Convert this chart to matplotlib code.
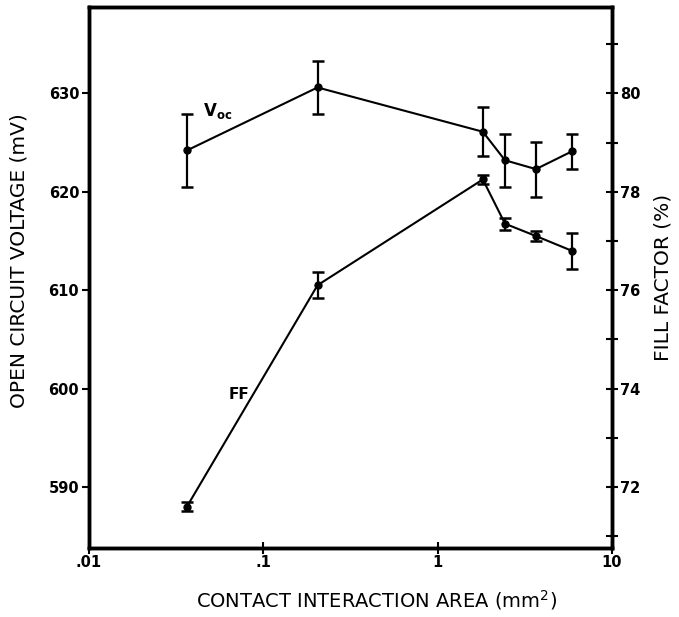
import matplotlib.pyplot as plt
from matplotlib.ticker import FixedLocator, NullLocator

# data
area = [0.0365, 0.205, 1.82, 2.44, 3.67, 5.9]          # mm^2
voc = [624.2, 630.6, 626.1, 623.2, 622.3, 624.1]        # mV
voc_err = [3.7, 2.7, 2.5, 2.7, 2.8, 1.8]
ff = [71.6, 76.1, 78.25, 77.35, 77.1, 76.8]             # %
ff_err = [0.1, 0.27, 0.1, 0.12, 0.1, 0.37]

xticks = [0.01, 0.1, 1, 10]
xtick_labels = ['.01', '.1', '1', '10']
vticks = [590, 600, 610, 620, 630]
fticks = [72, 74, 76, 78, 80]

plt.rcParams['font.family'] = ['DejaVu Sans']

fig = plt.figure(figsize=(6.79, 6.17), dpi=100)
ax = fig.add_axes([0.131, 0.112, 0.770, 0.877])
ax2 = ax.twinx()

ax.set_xscale('log')
ax.set_xlim(0.01, 10)
ax.set_ylim(583.8, 638.8)
ax2.set_ylim(70.76, 81.76)

# Voc on the left axis
ax.errorbar(area, voc, yerr=voc_err, fmt='o-', color='black', ms=5, lw=1.5,
            elinewidth=1.6, capsize=4, capthick=1.8)
# FF on the right axis
ax2.errorbar(area, ff, yerr=ff_err, fmt='o-', color='black', ms=5, lw=1.5,
             elinewidth=1.6, capsize=4, capthick=1.8)

ax.text(0.055, 628.2, r'V$_{\mathbf{oc}}$', fontsize=12, fontweight='bold',
        ha='center', va='center')
ax.text(0.073, 599.4, 'FF', fontsize=11, fontweight='bold',
        ha='center', va='center')

ax.xaxis.set_major_locator(FixedLocator(xticks))
ax.xaxis.set_minor_locator(NullLocator())
ax.set_xticklabels(xtick_labels, fontsize=10.5, fontweight='bold')
ax.set_yticks(vticks)
ax.set_yticklabels([str(v) for v in vticks], fontsize=10.5, fontweight='bold')
ax2.set_yticks(fticks)
ax2.set_yticks([71, 73, 75, 77, 79, 81], minor=True)
ax2.set_yticklabels([str(v) for v in fticks], fontsize=10.5, fontweight='bold')

ax.tick_params(axis='x', direction='inout', length=8, width=1.5, pad=1)
ax.tick_params(axis='y', direction='out', length=5, width=1.5, pad=2)
ax2.tick_params(axis='y', which='both', direction='inout', length=8, width=1.5, pad=2)

for a in (ax, ax2):
    for s in a.spines.values():
        s.set_linewidth(2.5)

ax.set_xlabel('CONTACT INTERACTION AREA (mm$^{2}$)', fontsize=14, labelpad=12)
ax.xaxis.set_label_coords(0.55, -0.075)
ax.set_ylabel('OPEN CIRCUIT VOLTAGE (mV)', fontsize=14.5)
ax.yaxis.set_label_coords(-0.115, 0.53)
ax2.set_ylabel('FILL FACTOR (%)', fontsize=14.5, labelpad=9)

fig.savefig('out.png', dpi=100)
